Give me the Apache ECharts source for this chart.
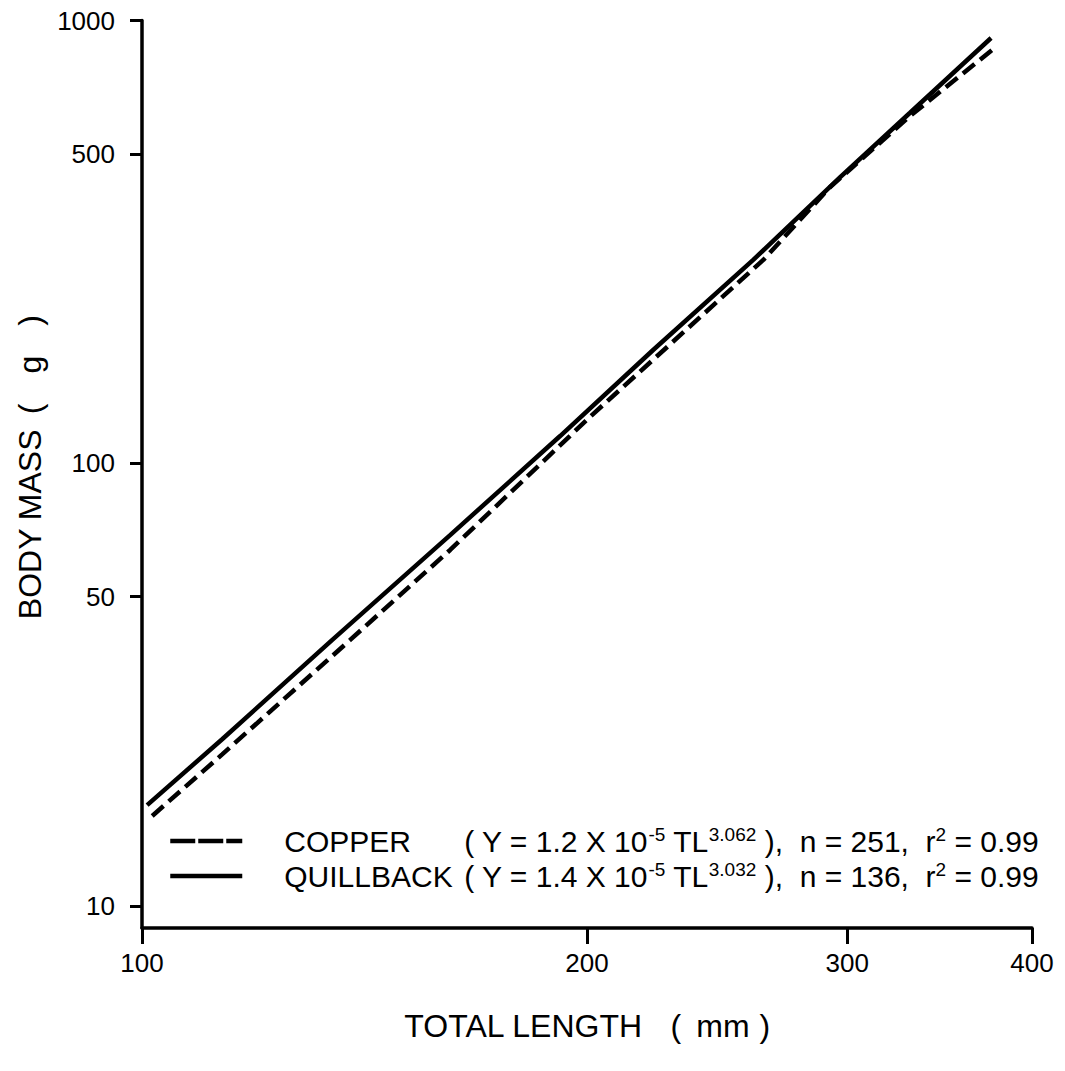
<!DOCTYPE html>
<html>
<head>
<meta charset="utf-8">
<script src="https://cdn.jsdelivr.net/npm/echarts@6/dist/echarts.min.js"></script>
<style>
  html, body { margin: 0; padding: 0; background: #ffffff; }
  #chart { width: 1065px; height: 1071px; }
</style>
</head>
<body>
<div id="chart"></div>
<script>
// Length–mass regressions for two rockfish species (log–log axes)
const lengthTicks = [100, 200, 300, 400];
const massTicks = [10, 50, 100, 500, 1000];

// Copper rockfish (dashed)
const copperLength = [101.6, 113.3, 138.3, 161.6, 200.9, 263.2, 292.1, 330.8, 375.9];
const copperMass   = [15.97, 22.0, 39.9, 63.7, 127.2, 287.9, 420.7, 608.5, 858];

// Quillback rockfish (solid)
const quillbackLength = [100.8, 113.3, 134.5, 161.6, 191.8, 221.7, 259.1, 296.7, 330.8, 375.3];
const quillbackMass   = [16.9, 23.8, 39.9, 68.8, 115.2, 180.2, 287.9, 443, 619, 913];

const pair = (xs, ys) => xs.map((x, i) => [x, ys[i]]);
const FONT = '"Liberation Sans", Arial, Helvetica, sans-serif';
const INK = '#000000';

const legendText = {
  COPPER: '{nm|COPPER}{eq|( Y = 1.2 X 10}{sup|-5}{eq| TL}{sup|3.062}{eq| ),  n = 251,  r}{sup|2}{eq| = 0.99}',
  QUILLBACK: '{nm|QUILLBACK}{eq|( Y = 1.4 X 10}{sup|-5}{eq| TL}{sup|3.032}{eq| ),  n = 136,  r}{sup|2}{eq| = 0.99}'
};

const titleStyle = { fontSize: 32, fontFamily: FONT, color: INK };
const hiddenMarker = { color: 'rgba(0,0,0,0)', borderWidth: 0, opacity: 0 };

const chart = echarts.init(document.getElementById('chart'), null, { renderer: 'svg' });

chart.setOption({
  animation: false,
  backgroundColor: '#ffffff',
  textStyle: { fontFamily: FONT, color: INK },
  grid: { left: 142, right: 33, top: 20.5, bottom: 143 },
  legend: {
    orient: 'vertical',
    left: 168,
    top: 825,
    padding: 0,
    itemGap: 4,
    itemWidth: 72,
    itemHeight: 14,
    selectedMode: false,
    itemStyle: hiddenMarker,
    data: [
      { name: 'COPPER', itemStyle: hiddenMarker, lineStyle: { type: [25, 3], width: 4.5, color: INK } },
      { name: 'QUILLBACK', itemStyle: hiddenMarker, lineStyle: { type: 'solid', width: 4.5, color: INK } }
    ],
    formatter: name => legendText[name],
    textStyle: {
      color: INK,
      fontFamily: FONT,
      fontSize: 30,
      rich: {
        nm: { fontSize: 30, fontFamily: FONT, color: INK, lineHeight: 32, width: 180, padding: [0, 0, 0, 37] },
        eq: { fontSize: 30, fontFamily: FONT, color: INK, lineHeight: 32 },
        sup: { fontSize: 19, fontFamily: FONT, color: INK, lineHeight: 19, verticalAlign: 'top' }
      }
    }
  },
  xAxis: {
    type: 'log',
    logBase: 10,
    min: 100,
    max: 400,
    name: '{t|TOTAL LENGTH}{p1|(}{p2|mm}{p3|)}',
    nameLocation: 'middle',
    nameGap: 82,
    nameTextStyle: {
      ...titleStyle,
      rich: {
        t: { ...titleStyle },
        p1: { ...titleStyle, padding: [0, 0, 0, 28] },
        p2: { ...titleStyle, padding: [0, 0, 0, 15] },
        p3: { ...titleStyle, padding: [0, 0, 0, 10] }
      }
    },
    axisLine: { onZero: false, lineStyle: { color: INK, width: 3.5 } },
    axisTick: { customValues: lengthTicks, length: 16, lineStyle: { color: INK, width: 3 } },
    minorTick: { show: false },
    axisLabel: {
      customValues: lengthTicks,
      formatter: v => String(v),
      fontSize: 26, fontFamily: FONT, color: INK, margin: 22
    },
    splitLine: { show: false }
  },
  yAxis: {
    type: 'log',
    logBase: 10,
    min: 8.918,
    max: 1000,
    name: '{t|BODY MASS}{p1|(}{p2|g}{p3|)}',
    nameLocation: 'middle',
    nameGap: 95,
    nameTextStyle: {
      ...titleStyle,
      padding: [0, 0, 0, 14],
      rich: {
        t: { ...titleStyle },
        p1: { ...titleStyle, padding: [0, 0, 0, 15] },
        p2: { ...titleStyle, padding: [0, 0, 0, 30] },
        p3: { ...titleStyle, padding: [0, 0, 0, 30] }
      }
    },
    axisLine: { lineStyle: { color: INK, width: 3.5 } },
    axisTick: { customValues: massTicks, length: 12, lineStyle: { color: INK, width: 3 } },
    minorTick: { show: false },
    axisLabel: {
      customValues: massTicks,
      formatter: v => String(v),
      fontSize: 26, fontFamily: FONT, color: INK, margin: 27
    },
    splitLine: { show: false }
  },
  series: [
    {
      name: 'COPPER',
      type: 'line',
      symbol: 'none',
      data: pair(copperLength, copperMass),
      lineStyle: { color: INK, width: 4.5, type: [15, 7], cap: 'butt' },
      z: 2
    },
    {
      name: 'QUILLBACK',
      type: 'line',
      symbol: 'none',
      data: pair(quillbackLength, quillbackMass),
      lineStyle: { color: INK, width: 4.5, type: 'solid' },
      z: 3
    }
  ]
});
</script>
</body>
</html>
